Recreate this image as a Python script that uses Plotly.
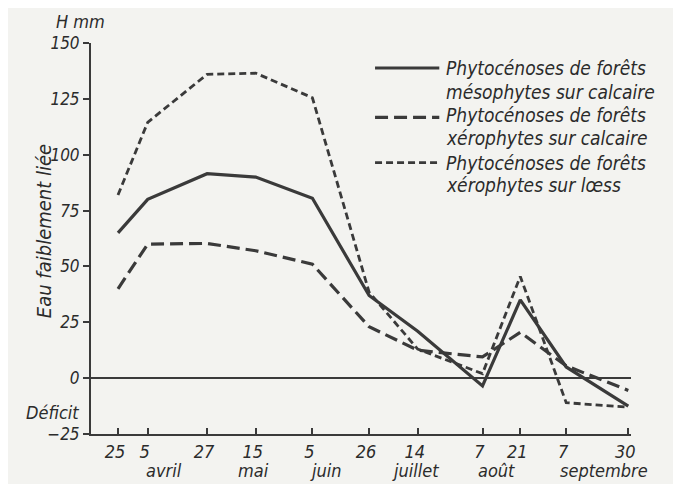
import plotly.graph_objects as go

# ---- data ----
dates = ["1950-03-25", "1950-04-05", "1950-04-27", "1950-05-15", "1950-06-05",
         "1950-06-26", "1950-07-14", "1950-08-07", "1950-08-21", "1950-09-07",
         "1950-09-30"]
day_labels = ["25", "5", "27", "15", "5", "26", "14", "7", "21", "7", "30"]
meso_calcaire = [65, 80, 91.5, 90, 80.5, 37, 21, -3.5, 35, 5, -12.5]
xero_calcaire = [40, 60, 60.3, 57, 51, 23, 12.5, 9.5, 20.5, 5.5, -5.5]
xero_loess = [82, 114.5, 136, 136.5, 125.5, 38.5, 13, 2, 45.5, -11, -13]

months = ["avril", "mai", "juin", "juillet", "août", "septembre"]
month_pos = ["1950-04-11", "1950-05-14", "1950-06-10", "1950-07-13",
             "1950-08-12", "1950-09-21"]
y_ticks = [-25, 0, 25, 50, 75, 100, 125, 150]

legend_lines = [["Phytocénoses de forêts", "mésophytes sur calcaire"],
                ["Phytocénoses de forêts", "xérophytes sur calcaire"],
                ["Phytocénoses de forêts", "xérophytes sur lœss"]]

# ---- styles ----
INK = "#3a3a3a"
TXT = "#2b2b2b"
BG = "#f3f3f0"
FONT = "DejaVu Sans Condensed, Liberation Sans Narrow, Noto Sans, sans-serif"
styles = [
    dict(color=INK, width=3.2, dash="solid"),
    dict(color=INK, width=3.2, dash="13px,6px"),
    dict(color=INK, width=2.8, dash="7px,4px"),
]

fig = go.Figure()
for vals, st in zip([meso_calcaire, xero_calcaire, xero_loess], styles):
    fig.add_trace(go.Scatter(x=dates, y=vals, mode="lines", line=st,
                             showlegend=False, hoverinfo="skip"))

# page body has an 8px margin: figure is 665x476 placed at (8, 8)
fig.update_layout(
    width=665, height=476,
    margin=dict(l=83, r=42, t=35, b=50),
    paper_bgcolor=BG, plot_bgcolor=BG,
    font=dict(family=FONT, size=18, color=TXT, style="italic"),
    xaxis=dict(type="date", range=["1950-03-15", "1950-10-01"],
               tickvals=dates, ticktext=day_labels,
               ticks="inside", ticklen=6, tickwidth=1.5, tickcolor=INK,
               ticklabelshift=-3,
               showline=True, linecolor=INK, linewidth=2,
               showgrid=False, zeroline=False),
    yaxis=dict(range=[-25, 150], tickvals=y_ticks,
               ticks="outside", ticklen=6, tickwidth=1.5, tickcolor=INK,
               tickfont=dict(size=17),
               showline=True, linecolor=INK, linewidth=2,
               showgrid=False, zeroline=True, zerolinecolor=INK,
               zerolinewidth=1.5),
)

# month labels
for m, p in zip(months, month_pos):
    fig.add_annotation(x=p, xref="x", y=-0.093, yref="paper", text=m,
                       showarrow=False, yanchor="middle", xanchor="center")

# axis texts
fig.add_annotation(x=-0.02, xref="paper", y=1.0, yref="paper", yshift=22,
                   text="H mm", showarrow=False, xanchor="center", yanchor="middle")
fig.add_annotation(x=-0.072, xref="paper", y=0.055, yref="paper",
                   text="Déficit", showarrow=False, xanchor="center", yanchor="middle")
fig.add_annotation(x=-0.088, xref="paper", y=0.52, yref="paper",
                   text="Eau faiblement liée", textangle=-90, showarrow=False,
                   font=dict(size=20),
                   xanchor="center", yanchor="middle")

# manual legend (plot area: 540 x 391 px)
sample_y = [0.936, 0.81, 0.694]
text_y = [(0.936, 0.875), (0.816, 0.757), (0.693, 0.637)]
for st, lines, sy, ty in zip(styles, legend_lines, sample_y, text_y):
    fig.add_shape(type="line", xref="paper", yref="paper",
                  x0=0.526, x1=0.645, y0=sy, y1=sy, line=st)
    for txt, yy in zip(lines, ty):
        fig.add_annotation(x=0.654, xref="paper", y=yy, yref="paper",
                           text=txt, showarrow=False, xanchor="left",
                           yanchor="middle", font=dict(size=19))

fig.write_html("out.html")
